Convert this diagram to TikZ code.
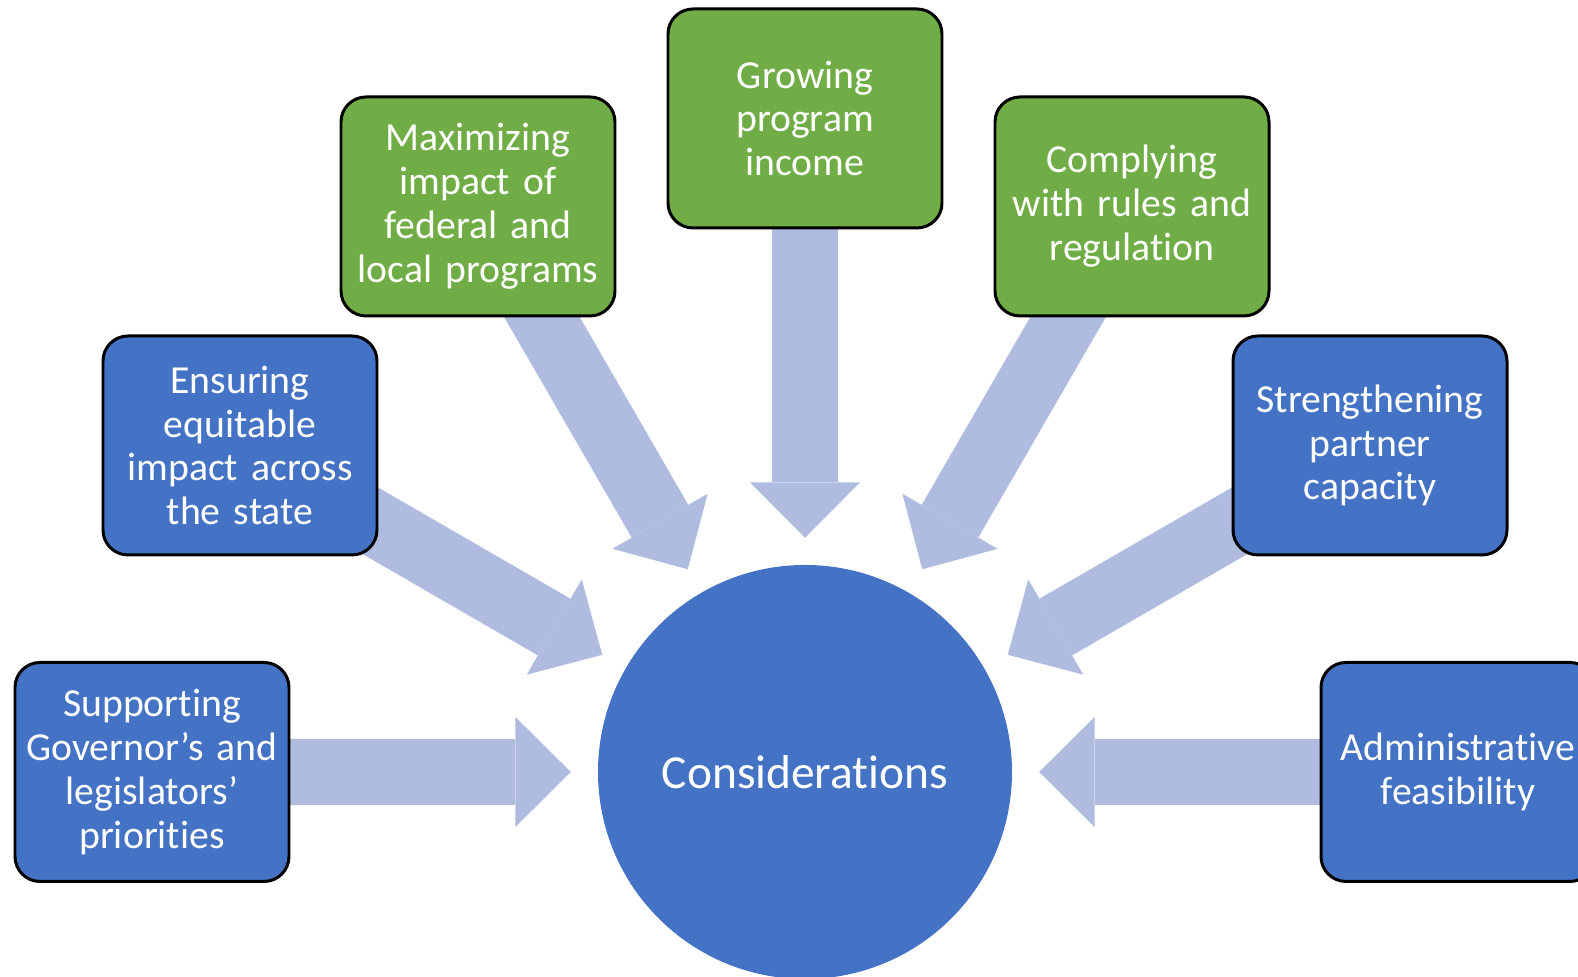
\documentclass[tikz,border=0pt]{standalone}
\usepackage{fontspec}
\setmainfont{Carlito}[Ligatures={NoCommon,NoRequired,NoContextual}]
\usetikzlibrary{arrows.meta,backgrounds}
\definecolor{boxblue}{HTML}{4472C4}
\definecolor{boxgreen}{HTML}{70AD47}
\definecolor{flowblue}{HTML}{B0BCDF}
\begin{document}
\begin{tikzpicture}[
    box/.style={draw=black, line width=0.85pt, rounded corners=0.25cm, text=white,
      minimum width=2.74cm, minimum height=2.19cm, text width=2.7cm, inner sep=0pt,
      align=center, font=\fontsize{11.3pt}{12.5pt}\selectfont},
    bluebox/.style={box, fill=boxblue},
    greenbox/.style={box, fill=boxgreen},
    flow/.style={draw=flowblue, line width=0.654cm, shorten >=0.265cm,
      -{Triangle[length=0.554cm, width=1.1cm, line width=0pt]}}]
    \useasboundingbox (0,0) rectangle (15.78,9.77);
    \node[circle, fill=boxblue, minimum size=4.14cm, text=white,
      font=\fontsize{13.5pt}{16pt}\selectfont] (cons) at (8.05,2.05) {Considerations};
    \node[bluebox] (sup) at (1.52,2.05) {Supporting\\Governor’s and\\legislators’\\priorities};
    \node[bluebox] (ens) at (2.40,5.315) {Ensuring\\equitable\\impact across\\the state};
    \node[greenbox] (max) at (4.78,7.705) {Maximizing\\impact of\\federal and\\local programs};
    \node[greenbox] (grow) at (8.05,8.585) {Growing\\program\\income};
    \node[greenbox] (comp) at (11.32,7.705) {Complying\\with rules and\\regulation};
    \node[bluebox] (str) at (13.70,5.315) {Strengthening\\partner\\capacity};
    \node[bluebox] (adm) at (14.58,2.05) {Administrative\\feasibility};
    % block arrows run from each box centre into the circle
    \begin{scope}[on background layer]
        \foreach \b in {sup,ens,max,grow,comp,str,adm}
            \draw[flow] (\b.center) -- (cons);
    \end{scope}
\end{tikzpicture}
\end{document}
